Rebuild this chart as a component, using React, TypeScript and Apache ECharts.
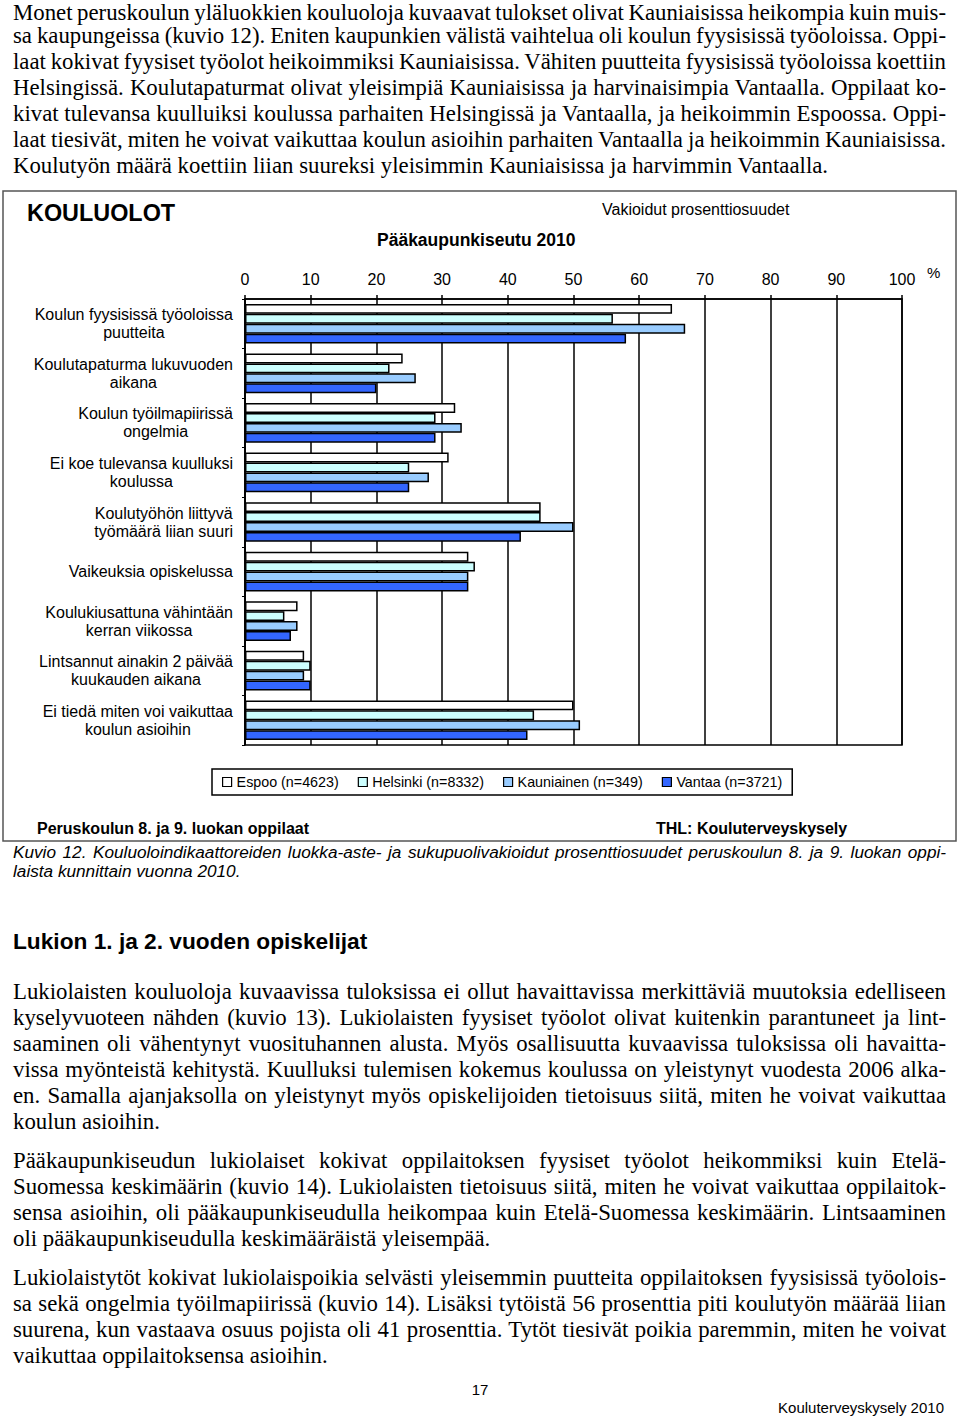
import React, { useEffect, useRef } from "react";
import * as echarts from "echarts";

const categories = [
  "Koulun fyysisissä työoloissa\npuutteita",
  "Koulutapaturma lukuvuoden\naikana",
  "Koulun työilmapiirissä\nongelmia",
  "Ei koe tulevansa kuulluksi\nkoulussa",
  "Koulutyöhön liittyvä\ntyömäärä liian suuri",
  "Vaikeuksia opiskelussa",
  "Koulukiusattuna vähintään\nkerran viikossa",
  "Lintsannut ainakin 2 päivää\nkuukauden aikana",
  "Ei tiedä miten voi vaikuttaa\nkoulun asioihin",
];

const cities = ["Espoo (n=4623)", "Helsinki (n=8332)", "Kauniainen (n=349)", "Vantaa (n=3721)"];
const espoo = [65, 24, 32, 31, 45, 34, 8, 9, 50];
const helsinki = [56, 22, 29, 25, 45, 35, 6, 10, 44];
const kauniainen = [67, 26, 33, 28, 50, 34, 8, 9, 51];
const vantaa = [58, 20, 29, 25, 42, 34, 7, 10, 43];
const seriesValues = [espoo, helsinki, kauniainen, vantaa];
const cityColors = ["#ffffff", "#ccffff", "#99ccff", "#3366ff"];

const SANS = "'Liberation Sans', Arial, Helvetica, sans-serif";
const SERIF = "'Liberation Serif', 'Times New Roman', Times, serif";

const topPara = [
  "Monet peruskoulun yläluokkien kouluoloja kuvaavat tulokset olivat Kauniaisissa heikompia kuin muis-",
  "sa kaupungeissa (kuvio 12). Eniten kaupunkien välistä vaihtelua oli koulun fyysisissä työoloissa. Oppi-",
  "laat kokivat fyysiset työolot heikoimmiksi Kauniaisissa. Vähiten puutteita fyysisissä työoloissa koettiin",
  "Helsingissä. Koulutapaturmat olivat yleisimpiä Kauniaisissa ja harvinaisimpia Vantaalla. Oppilaat ko-",
  "kivat tulevansa kuulluiksi koulussa parhaiten Helsingissä ja Vantaalla, ja heikoimmin Espoossa. Oppi-",
  "laat tiesivät, miten he voivat vaikuttaa koulun asioihin parhaiten Vantaalla ja heikoimmin Kauniaisissa.",
  "Koulutyön määrä koettiin liian suureksi yleisimmin Kauniaisissa ja harvimmin Vantaalla.",
];
const para1 = [
  "Lukiolaisten kouluoloja kuvaavissa tuloksissa ei ollut havaittavissa merkittäviä muutoksia edelliseen",
  "kyselyvuoteen nähden (kuvio 13). Lukiolaisten fyysiset työolot olivat kuitenkin parantuneet ja lint-",
  "saaminen oli vähentynyt vuosituhannen alusta. Myös osallisuutta kuvaavissa tuloksissa oli havaitta-",
  "vissa myönteistä kehitystä. Kuulluksi tulemisen kokemus koulussa on yleistynyt vuodesta 2006 alka-",
  "en. Samalla ajanjaksolla on yleistynyt myös opiskelijoiden tietoisuus siitä, miten he voivat vaikuttaa",
  "koulun asioihin.",
];
const para2 = [
  "Pääkaupunkiseudun lukiolaiset kokivat oppilaitoksen fyysiset työolot heikommiksi kuin Etelä-",
  "Suomessa keskimäärin (kuvio 14). Lukiolaisten tietoisuus siitä, miten he voivat vaikuttaa oppilaitok-",
  "sensa asioihin, oli pääkaupunkiseudulla heikompaa kuin Etelä-Suomessa keskimäärin. Lintsaaminen",
  "oli pääkaupunkiseudulla keskimääräistä yleisempää.",
];
const para3 = [
  "Lukiolaistytöt kokivat lukiolaispoikia selvästi yleisemmin puutteita oppilaitoksen fyysisissä työolois-",
  "sa sekä ongelmia työilmapiirissä (kuvio 14). Lisäksi tytöistä 56 prosenttia piti koulutyön määrää liian",
  "suurena, kun vastaava osuus pojista oli 41 prosenttia. Tytöt tiesivät poikia paremmin, miten he voivat",
  "vaikuttaa oppilaitoksensa asioihin.",
];
const captionLines = [
  "Kuvio 12. Kouluoloindikaattoreiden luokka-aste- ja sukupuolivakioidut prosenttiosuudet peruskoulun 8. ja 9. luokan oppi-",
  "laista kunnittain vuonna 2010.",
];

function Paragraph({ lines, firstCenter }: { lines: string[]; firstCenter: number }) {
  return (
    <>
      {lines.map((t, i) => {
        const last = i === lines.length - 1;
        return (
          <div
            key={i}
            style={{
              position: "absolute",
              left: 13,
              width: 933,
              top: Math.max(0, firstCenter + i * 26 - 15.7 + 3.5),
              height: 26,
              lineHeight: "26px",
              fontFamily: SERIF,
              fontSize: "22.8px",
              color: "#000",
              whiteSpace: "nowrap",
              textAlign: last ? "left" : "justify",
              textAlignLast: last ? "auto" : "justify",
              wordSpacing: last ? 0 : "-2px",
            } as React.CSSProperties}
          >
            {t}
          </div>
        );
      })}
    </>
  );
}

function Chart() {
  const ref = useRef<HTMLDivElement>(null);
  useEffect(() => {
    if (!ref.current) return;
    const chart = echarts.init(ref.current, null, { renderer: "svg" });
    const option: any = {
      animation: false,
      textStyle: { fontFamily: SANS, color: "#000" },
      grid: {
        left: 245,
        top: 114,
        width: 657,
        height: 446,
        show: true,
        borderColor: "#000",
        borderWidth: 1.5,
        backgroundColor: "transparent",
        containLabel: false,
      },
      legend: {
        data: cities,
        left: 212,
        top: 584,
        orient: "horizontal",
        icon: "rect",
        itemWidth: 9,
        itemHeight: 9,
        itemGap: 19,
        selectedMode: false,
        padding: [6, 10],
        borderColor: "#000",
        borderWidth: 1.5,
        itemStyle: { borderColor: "#000", borderWidth: 1.2 },
        textStyle: { fontSize: 14.3, color: "#000", fontFamily: SANS },
      },
      xAxis: {
        type: "value",
        position: "top",
        min: 0,
        max: 100,
        interval: 10,
        axisLine: { show: true, lineStyle: { color: "#000", width: 1.5 } },
        axisTick: { show: true, inside: false, length: 4, lineStyle: { color: "#000", width: 1.5 } },
        axisLabel: { fontSize: 16, color: "#000", margin: 12, fontFamily: SANS },
        splitLine: { show: true, lineStyle: { color: "#000", width: 1.5 } },
      },
      yAxis: {
        type: "category",
        inverse: true,
        data: categories,
        axisLine: { show: true, lineStyle: { color: "#000", width: 1.5 } },
        axisTick: { show: true, length: 3, lineStyle: { color: "#000", width: 1 } },
        axisLabel: {
          align: "right",
          margin: 12,
          fontSize: 16,
          lineHeight: 18,
          color: "#000",
          fontFamily: SANS,
          formatter: (v: string) =>
            v
              .split("\n")
              .map((l) => `{c|${l}}`)
              .join("\n"),
          rich: {
            c: { align: "center", fontSize: 16, lineHeight: 18, color: "#000", fontFamily: SANS },
          },
        },
        splitLine: { show: false },
      },
      series: cities.map((name, i) => ({
        type: "bar",
        name,
        data: seriesValues[i],
        barGap: "0%",
        barCategoryGap: "20%",
        itemStyle: { color: cityColors[i], borderColor: "#000", borderWidth: 1.5 },
        emphasis: { disabled: true },
      })),
      graphic: [
        {
          type: "rect",
          silent: true,
          shape: { x: 3, y: 6, width: 953, height: 650 },
          style: { fill: "none", stroke: "#555", lineWidth: 1.5 },
        },
        {
          type: "text",
          x: 27,
          y: 28,
          style: {
            text: "KOULUOLOT",
            fill: "#000",
            fontSize: 23.4,
            fontWeight: "bold",
            fontFamily: SANS,
            align: "left",
            verticalAlign: "middle",
          },
        },
        {
          type: "text",
          x: 602,
          y: 24,
          style: {
            text: "Vakioidut prosenttiosuudet",
            fill: "#000",
            fontSize: 16,
            fontFamily: SANS,
            align: "left",
            verticalAlign: "middle",
          },
        },
        {
          type: "text",
          x: 377,
          y: 55,
          style: {
            text: "Pääkaupunkiseutu 2010",
            fill: "#000",
            fontSize: 17.5,
            fontWeight: "bold",
            fontFamily: SANS,
            align: "left",
            verticalAlign: "middle",
          },
        },
        {
          type: "text",
          x: 927,
          y: 87,
          style: {
            text: "%",
            fill: "#000",
            fontSize: 15,
            fontFamily: SANS,
            align: "left",
            verticalAlign: "middle",
          },
        },
        {
          type: "text",
          x: 37,
          y: 643,
          style: {
            text: "Peruskoulun 8. ja 9. luokan oppilaat",
            fill: "#000",
            fontSize: 16,
            fontWeight: "bold",
            fontFamily: SANS,
            align: "left",
            verticalAlign: "middle",
          },
        },
        {
          type: "text",
          x: 656,
          y: 643,
          style: {
            text: "THL: Kouluterveyskysely",
            fill: "#000",
            fontSize: 16,
            fontWeight: "bold",
            fontFamily: SANS,
            align: "left",
            verticalAlign: "middle",
          },
        },
      ],
    };
    chart.setOption(option);
    return () => chart.dispose();
  }, []);
  return <div ref={ref} style={{ position: "absolute", left: 0, top: 185, width: 960, height: 665 }} />;
}

export default function App() {
  return (
    <div
      style={{
        position: "absolute",
        left: 0,
        top: 0,
        width: 960,
        height: 1420,
        background: "#fff",
        overflow: "hidden",
      }}
    >
      <Paragraph lines={topPara} firstCenter={9} />
      <Chart />
      {captionLines.map((t, i) => {
        const last = i === captionLines.length - 1;
        return (
          <div
            key={i}
            style={{
              position: "absolute",
              left: 13,
              width: 933,
              top: 853 + i * 19 - 10,
              height: 19,
              lineHeight: "19px",
              fontFamily: SANS,
              fontStyle: "italic",
              fontSize: "17.2px",
              color: "#000",
              whiteSpace: "nowrap",
              textAlign: last ? "left" : "justify",
              textAlignLast: last ? "auto" : "justify",
            } as React.CSSProperties}
          >
            {t}
          </div>
        );
      })}
      <div
        style={{
          position: "absolute",
          left: 13,
          top: 928,
          fontFamily: SANS,
          fontWeight: "bold",
          fontSize: "22.7px",
          lineHeight: "26px",
          color: "#000",
          whiteSpace: "nowrap",
        }}
      >
        Lukion 1. ja 2. vuoden opiskelijat
      </div>
      <Paragraph lines={para1} firstCenter={991} />
      <Paragraph lines={para2} firstCenter={1160} />
      <Paragraph lines={para3} firstCenter={1277} />
      <div
        style={{
          position: "absolute",
          left: 440,
          width: 80,
          top: 1381,
          textAlign: "center",
          fontFamily: SANS,
          fontSize: "15px",
          lineHeight: "18px",
          color: "#000",
        }}
      >
        17
      </div>
      <div
        style={{
          position: "absolute",
          right: 960 - 944,
          top: 1399,
          textAlign: "right",
          fontFamily: SANS,
          fontSize: "15px",
          lineHeight: "18px",
          color: "#000",
          whiteSpace: "nowrap",
        }}
      >
        Kouluterveyskysely 2010
      </div>
    </div>
  );
}
